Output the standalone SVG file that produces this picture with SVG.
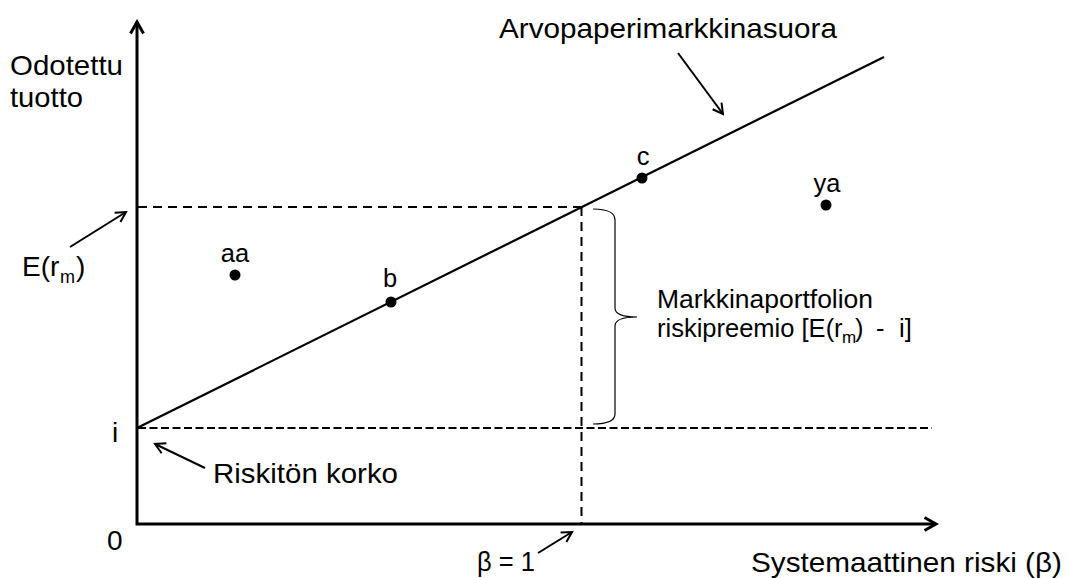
<svg xmlns="http://www.w3.org/2000/svg" width="1067" height="578" viewBox="0 0 1067 578">
<style>
text{font-family:"Liberation Sans",Arial,sans-serif;fill:#000}
.lbl{font-size:28px}
.sm{font-size:25.5px}
.axis{fill:none;stroke:#000;stroke-width:3;stroke-linejoin:miter}
.sml{fill:none;stroke:#000;stroke-width:2.2}
.dash1{fill:none;stroke:#000;stroke-width:2;stroke-dasharray:9 6}
.dash2{fill:none;stroke:#000;stroke-width:2;stroke-dasharray:8 3.5}
.ptr{fill:none;stroke:#000;stroke-width:2;marker-end:url(#arr)}
.brace{fill:none;stroke:#000;stroke-width:1.2}
.pt{fill:#000}
</style>
<defs>
<marker id="arr" viewBox="0 0 14 14" refX="12" refY="7" markerWidth="14" markerHeight="14" markerUnits="userSpaceOnUse" orient="auto-start-reverse">
<path d="M2,1.5 L12,7 L2,12.5" fill="none" stroke="#000" stroke-width="2"/>
</marker>
<marker id="axarr" viewBox="0 0 16 16" refX="13" refY="8" markerWidth="16" markerHeight="16" markerUnits="userSpaceOnUse" orient="auto-start-reverse">
<path d="M1.5,1.5 L13,8 L1.5,14.5" fill="none" stroke="#000" stroke-width="3"/>
</marker>
</defs>

<g id="axes">
<path class="axis" d="M137,22 L137,524 L936,524" marker-start="url(#axarr)" marker-end="url(#axarr)"/>
</g>

<g id="connectors">
<line class="dash1" x1="138" y1="207" x2="581" y2="207"/>
<line class="dash1" x1="581.5" y1="207" x2="581.5" y2="523"/>
<line class="dash2" x1="138" y1="428" x2="932" y2="428"/>
<line class="sml" x1="137" y1="428" x2="884" y2="57"/>
<path class="brace" d="M593,209 Q615,209 615,220 L615,308 Q615,317 637,317 Q615,317 615,326 L615,414 Q615,424 593,424"/>
<line class="ptr" x1="70" y1="247" x2="126" y2="212"/>
<line class="ptr" x1="678" y1="53" x2="723" y2="114"/>
<line class="ptr" x1="205" y1="468" x2="155" y2="444"/>
<line class="ptr" x1="538" y1="553" x2="572" y2="532"/>
</g>

<g id="y-label">
<text class="lbl" x="10" y="75" textLength="113" lengthAdjust="spacingAndGlyphs">Odotettu</text>
<text class="lbl" x="10" y="107" textLength="73" lengthAdjust="spacingAndGlyphs">tuotto</text>
</g>
<g id="erm-label">
<text class="lbl" x="22" y="276">E(r<tspan font-size="18" x="60" dy="7">m</tspan><tspan x="76" dy="-7">)</tspan></text>
</g>
<g id="i-label"><text class="lbl" x="112" y="442" font-size="32">i</text></g>
<g id="zero-label"><text class="lbl" x="107" y="550">0</text></g>
<g id="riskiton-label"><text class="lbl" x="213" y="483" textLength="185" lengthAdjust="spacingAndGlyphs">Riskitön korko</text></g>
<g id="beta1-label"><text class="lbl" x="477" y="571" textLength="58" lengthAdjust="spacingAndGlyphs">β = 1</text></g>
<g id="x-label"><text class="lbl" x="751" y="572" textLength="311" lengthAdjust="spacingAndGlyphs">Systemaattinen riski (β)</text></g>
<g id="sml-label"><text class="lbl" x="499" y="38" textLength="338" lengthAdjust="spacingAndGlyphs" font-size="29">Arvopaperimarkkinasuora</text></g>
<g id="premium-label">
<text class="sm" x="657" y="308" textLength="216" lengthAdjust="spacingAndGlyphs">Markkinaportfolion</text>
<text class="sm" x="657" y="337">riskipreemio [E(r<tspan font-size="17" x="842" dy="6">m</tspan><tspan x="855" dy="-6">)</tspan><tspan x="876">-</tspan><tspan x="899">i]</tspan></text>
</g>

<g id="point-aa"><circle class="pt" cx="235" cy="275" r="5.5"/><text class="sm" x="235" y="262" text-anchor="middle">aa</text></g>
<g id="point-b"><circle class="pt" cx="391" cy="302" r="5.5"/><text class="sm" x="390" y="287" text-anchor="middle">b</text></g>
<g id="point-c"><circle class="pt" cx="642" cy="178" r="5.5"/><text class="sm" x="643" y="165" text-anchor="middle">c</text></g>
<g id="point-ya"><circle class="pt" cx="826" cy="205" r="5.5"/><text class="sm" x="827" y="192" text-anchor="middle">ya</text></g>
</svg>
